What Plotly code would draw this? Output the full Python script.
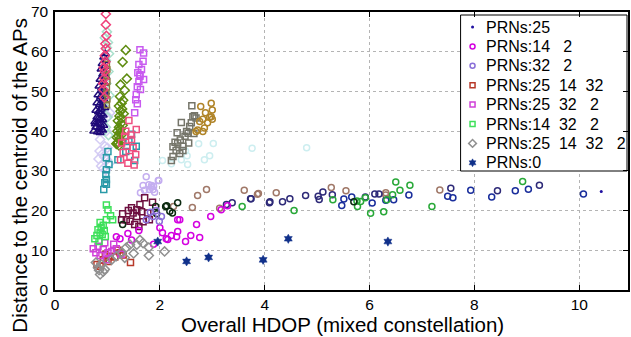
import plotly.graph_objects as go

# ---------------- data ----------------
# legend series
prn25_x = [10.42]
prn25_y = [24.8]

prn14_2_x = [1.39, 1.24, 1.46, 1.17, 2.05, 2.22, 2.32, 2.34, 2.12, 2.34, 2.59, 2.70, 2.97, 3.17, 3.29, 2.49, 2.15, 2.00, 2.38, 2.76, 1.60, 1.88]
prn14_2_y = [14.2, 12.9, 12.6, 13.4, 14.4, 13.7, 13.4, 17.7, 12.9, 14.7, 13.7, 16.5, 18.5, 20.2, 21.2, 12.2, 12.7, 15.7, 17.7, 13.2, 15.0, 11.5]

prn32_2_x = [1.87, 1.74, 2.03, 1.99, 1.82, 1.93]
prn32_2_y = [18.5, 17.7, 18.5, 17.3, 19.6, 20.0]

prn25_14_32_x = [0.80, 0.92, 1.05, 1.14, 1.24, 1.44, 1.01, 0.86, 1.20, 1.30, 0.96]
prn25_14_32_y = [6.4, 7.6, 8.5, 8.3, 9.4, 6.9, 7.2, 6.0, 10.0, 8.8, 9.0]

prn25_32_2_x = [0.73, 0.82, 0.92, 1.01, 1.08, 1.17, 0.86, 0.98, 0.95, 0.78, 1.12, 1.26]
prn25_32_2_y = [10.4, 11.0, 10.2, 9.4, 9.7, 10.4, 8.7, 7.6, 11.9, 9.4, 11.5, 9.0]

prn14_32_2_x = [0.98, 1.01, 1.06, 0.98, 1.10, 0.82, 0.86, 0.80, 0.76, 0.84, 0.90, 0.88, 0.94, 0.92, 0.96, 0.86]
prn14_32_2_y = [21.4, 20.2, 18.7, 17.7, 17.7, 15.2, 14.4, 13.7, 12.9, 12.2, 14.0, 15.8, 15.0, 16.3, 13.5, 17.0]

prn_all_x = [0.86, 0.92, 0.82, 0.78, 0.89, 1.17, 1.36, 1.43, 1.56, 1.62, 1.79, 1.79, 2.09, 1.27, 1.33, 1.08, 0.84, 0.95, 1.50, 1.68]
prn_all_y = [3.9, 4.6, 5.6, 6.9, 6.4, 8.5, 10.7, 11.4, 11.4, 12.6, 10.7, 8.7, 9.7, 9.4, 8.1, 7.6, 5.0, 5.2, 9.2, 11.8]

prn0_x = [1.96, 2.51, 2.93, 3.97, 4.45, 6.35]
prn0_y = [12.2, 7.2, 8.2, 7.6, 12.9, 12.2]

# other series (not in legend)
tri_x = [0.96, 0.93, 0.97, 0.90, 0.95, 0.88, 0.94, 0.91, 0.97, 0.86, 0.92, 0.95, 0.84, 0.89, 0.93,
         0.96, 0.82, 0.87, 0.91, 0.94, 0.80, 0.85, 0.90, 0.95, 0.78, 0.83, 0.88, 0.92, 0.80, 0.86,
         0.91, 0.76, 0.82, 0.87, 0.93, 0.78, 0.84, 0.89, 0.74, 0.81, 0.86, 0.91, 0.77, 0.83, 0.88]
tri_y = [59.5, 58.6, 57.8, 57.0, 56.3, 55.6, 54.9, 54.3, 53.7, 53.0, 52.5, 52.0, 51.3, 50.8, 50.3,
         49.8, 49.1, 48.7, 48.2, 47.8, 47.1, 46.7, 46.3, 45.9, 45.2, 44.8, 44.4, 44.0, 43.5, 43.1,
         42.8, 42.3, 42.0, 41.7, 41.4, 41.0, 40.7, 40.4, 40.0, 39.8, 39.6, 40.2, 41.8, 43.3, 45.5]

pinkd_x = [0.97, 0.97, 0.98, 0.96, 0.97, 0.95, 0.96, 0.93, 0.95, 0.94, 0.92, 0.92, 0.94]
pinkd_y = [69.5, 66.8, 64.0, 62.0, 60.8, 59.0, 57.5, 56.0, 55.0, 53.3, 52.0, 50.5, 48.5]

mint_x = [0.99, 0.95, 1.01, 0.99, 1.03, 0.97, 1.02, 0.98, 1.04, 0.96, 1.00, 0.97, 1.02]
mint_y = [65.0, 63.5, 62.3, 61.0, 59.5, 57.8, 55.0, 52.0, 49.0, 46.0, 43.5, 41.0, 39.0]

olsq_x = [0.99, 1.00, 0.98, 1.00, 0.99, 0.98, 1.00, 0.99]
olsq_y = [57.0, 55.5, 54.0, 52.5, 51.0, 49.5, 48.0, 46.5]

ogd_x = [1.35, 1.29, 1.37, 1.25, 1.33, 1.24, 1.30, 1.27, 1.22, 1.28, 1.25, 1.31, 1.23, 1.27, 1.20, 1.26,
         1.29, 1.22, 1.25, 1.19, 1.24, 1.28, 1.21, 1.18, 1.23, 1.26, 1.20, 1.17, 1.22, 1.19]
ogd_y = [60.4, 57.4, 53.2, 51.7, 50.3, 48.7, 47.8, 47.0, 46.3, 45.6, 45.0, 44.4, 43.8, 43.2, 42.6, 42.0,
         41.5, 41.0, 40.5, 40.0, 39.6, 39.2, 38.8, 38.4, 38.0, 37.6, 37.2, 36.8, 36.4, 36.9]

violet_x = [1.62, 1.69, 1.68, 1.60, 1.65, 1.58, 1.62, 1.60, 1.57, 1.63, 1.55, 1.54, 1.57, 1.52, 1.69, 1.62]
violet_y = [60.5, 59.7, 57.6, 56.8, 55.5, 54.7, 53.8, 52.5, 51.2, 50.5, 49.2, 47.9, 46.9, 44.6, 53.0, 54.2]

pinksq_x = [1.41, 1.55, 1.33, 1.46, 1.27, 1.37, 1.49, 1.30, 1.43, 1.54, 1.25, 1.39, 1.51, 1.35, 1.45]
pinksq_y = [42.7, 40.4, 38.7, 37.9, 37.0, 36.2, 35.8, 34.6, 33.6, 34.1, 32.8, 31.9, 31.5, 40.0, 39.0]

teal_x = [1.46, 1.41, 1.55, 1.20, 1.52, 1.35, 1.01, 0.98, 1.03, 0.98, 0.97, 0.98, 0.95, 0.93, 0.98]
teal_y = [39.2, 37.4, 36.2, 32.8, 32.6, 34.9, 34.9, 33.3, 31.6, 30.3, 29.0, 27.8, 27.0, 25.3, 26.6]

lavd_x = [1.01, 1.05, 0.91, 0.98, 0.86, 0.95, 0.85, 0.90, 0.94, 0.99, 1.03, 0.88, 0.92, 0.97, 1.00, 0.83]
lavd_y = [43.7, 44.6, 41.6, 40.0, 37.9, 36.2, 35.0, 34.2, 33.5, 32.8, 31.8, 31.2, 30.6, 30.2, 35.8, 33.0]

lavc_x = [1.74, 1.97, 1.68, 1.79, 1.88, 1.80, 1.71, 1.63, 1.90, 1.84, 1.98, 1.84, 1.87]
lavc_y = [28.5, 27.6, 26.3, 26.5, 26.1, 25.3, 25.1, 24.5, 24.6, 25.9, 27.6, 26.3, 25.3]

graysq_x = [2.61, 2.41, 2.33, 2.29, 2.25, 2.22, 2.25, 2.31, 2.38, 2.44, 2.44, 2.39, 2.48, 2.51, 2.54,
            2.57, 2.60, 2.63, 2.66, 2.69, 2.65, 2.55, 2.34]
graysq_y = [46.4, 42.2, 39.6, 37.2, 36.1, 32.6, 33.6, 35.1, 34.4, 35.1, 36.2, 37.8, 38.7, 39.9, 39.5,
            41.2, 42.1, 43.6, 43.9, 43.3, 39.4, 37.0, 37.0]

gold_x = [2.78, 2.98, 3.00, 2.87, 2.95, 3.00, 2.82, 2.91, 2.76, 2.85, 2.82, 2.72, 2.69, 2.98]
gold_y = [46.2, 47.0, 45.3, 44.6, 43.5, 43.0, 43.0, 42.1, 42.4, 40.8, 39.9, 40.3, 39.9, 43.6]

cyan_x = [2.74, 3.02, 3.76, 2.95, 2.85, 2.53, 2.52, 2.41, 2.22, 2.05, 2.49, 4.80]
cyan_y = [36.8, 36.9, 35.7, 33.8, 32.8, 31.6, 33.8, 32.8, 31.8, 32.6, 35.0, 35.8]

maroon_x = [1.46, 1.71, 1.86, 1.29, 1.36, 1.56, 1.65, 1.52, 1.43, 1.77, 1.60, 1.49, 1.27, 1.56, 1.68, 1.80, 1.62, 1.40]
maroon_y = [20.7, 23.2, 22.1, 19.2, 17.7, 18.5, 19.7, 16.5, 17.3, 19.4, 16.0, 19.4, 17.7, 20.2, 17.2, 17.7, 21.5, 20.0]

dkg_x = [2.13, 2.34, 1.94, 2.19, 2.24, 1.29, 1.92, 2.11, 5.70]
dkg_y = [21.2, 22.0, 19.2, 19.8, 19.4, 16.5, 21.0, 21.0, 22.2]

brown_x = [3.88, 4.22, 5.27, 5.55, 6.31, 6.31, 7.34, 2.89, 2.72, 3.61, 3.86, 2.26, 2.62, 3.14]
brown_y = [24.3, 24.5, 25.8, 25.0, 24.5, 23.9, 25.2, 25.3, 23.8, 25.1, 24.1, 21.0, 20.8, 20.6]

navy_x = [3.74, 4.09, 4.34, 4.48, 4.78, 5.02, 5.04, 5.11, 5.29, 5.92, 6.10, 6.18, 7.55, 8.44, 9.24, 3.27, 3.38, 3.73, 4.10]
navy_y = [23.0, 22.0, 22.2, 23.0, 23.8, 23.6, 22.8, 24.7, 24.0, 23.4, 24.2, 24.2, 25.6, 25.0, 26.4, 21.5, 22.0, 23.0, 22.2]

blue_x = [5.47, 5.51, 5.66, 6.05, 6.31, 6.46, 6.75, 7.49, 7.59, 7.93, 8.33, 8.78, 9.03, 10.08]
blue_y = [21.3, 22.9, 23.4, 21.9, 22.6, 22.7, 23.9, 23.6, 23.2, 25.1, 23.4, 25.0, 25.4, 24.2]

green_x = [4.56, 3.57, 5.30, 5.76, 5.77, 5.83, 5.92, 6.02, 6.27, 6.33, 6.44, 6.50, 6.58, 6.77, 7.19, 8.92]
green_y = [20.0, 21.0, 22.7, 22.4, 21.0, 22.3, 23.2, 19.3, 19.7, 22.7, 24.0, 27.2, 25.1, 26.4, 21.0, 27.3]

legend_names = ["PRNs:25", "PRNs:14   2", "PRNs:32   2", "PRNs:25  14  32",
                "PRNs:25  32   2", "PRNs:14  32   2", "PRNs:25  14  32   2", "PRNs:0"]

x_ticks = [0, 2, 4, 6, 8, 10]
y_ticks = [0, 10, 20, 30, 40, 50, 60, 70]

x_title = "Overall HDOP (mixed constellation)"
y_title = "Distance to the centroid of the APs"

# ---------------- figure ----------------
fig = go.Figure()
FONT = "Liberation Sans, Arial, Helvetica, sans-serif"
W, H = 631, 337
ML, MR, MT, MB = 55, 1, 12, 47
PW, PH = W - ML - MR, H - MT - MB


def add(x, y, sym, color, size=6, lw=1.5):
    fig.add_trace(go.Scatter(
        x=x, y=y, mode="markers", showlegend=False, hoverinfo="skip",
        marker=dict(symbol=sym, size=size, color=color,
                    line=dict(color=color, width=lw)),
    ))


# unnamed series
add(cyan_x, cyan_y, "circle-open", "#cdeef0")
add(lavd_x, lavd_y, "diamond-open", "#d4ccf4", size=7)
add(lavc_x, lavc_y, "circle-open", "#c4aef0")
add(mint_x, mint_y, "diamond-open", "#a8e0cc", size=7)
add(tri_x, tri_y, "triangle-up-open", "#1f0a78", size=7)
add(olsq_x, olsq_y, "square-open", "#8a7a40", size=5)
add(pinkd_x, pinkd_y, "diamond-open", "#f0407a", size=7)
add(ogd_x, ogd_y, "diamond-open", "#5e8c10", size=7)
add(violet_x, violet_y, "square-open", "#c85af0")
add(teal_x, teal_y, "square-open", "#2a9aa8")
add(pinksq_x, pinksq_y, "square-open", "#ee5080")
add(graysq_x, graysq_y, "square-open", "#75756a")
add(gold_x, gold_y, "circle-open", "#b08428")
add(maroon_x, maroon_y, "square-open", "#6e1040")
add(brown_x, brown_y, "circle-open", "#a07868")
add(navy_x, navy_y, "circle-open", "#2e2a78")
add(blue_x, blue_y, "circle-open", "#1a2e9c")
add(green_x, green_y, "circle-open", "#28a838")
add(dkg_x, dkg_y, "circle-open", "#0c2a10")

# legend series: (x, y, symbol, colour, size, line width)
legend_series = [
    (prn25_x, prn25_y, "circle", "#2010a0", 3, 0),
    (prn14_2_x, prn14_2_y, "circle-open", "#d400e0", 6, 1.5),
    (prn32_2_x, prn32_2_y, "circle-open", "#8a6fd8", 6, 1.5),
    (prn25_14_32_x, prn25_14_32_y, "square-open", "#b83a2a", 6, 1.5),
    (prn25_32_2_x, prn25_32_2_y, "square-open", "#d040d8", 6, 1.5),
    (prn14_32_2_x, prn14_32_2_y, "square-open", "#3ee05a", 6, 1.5),
    (prn_all_x, prn_all_y, "diamond-open", "#909090", 7, 1.5),
    (prn0_x, prn0_y, "hexagram", "#10308a", 7, 0.5),
]
for sx, sy, sym, col, sz, lw in legend_series:
    add(sx, sy, sym, col, size=sz, lw=lw)

# ---- hand-drawn legend box on an overlay axis measured in pixels ----
box_l, box_r, box_t, box_b = 462, 629, 15, 171
row_y0, row_dy = 27, 19.4
mark_x, text_x = 474, 485

fig.add_trace(go.Scatter(
    x=[box_l, box_r, box_r, box_l, box_l], y=[box_t, box_t, box_b, box_b, box_t],
    xaxis="x2", yaxis="y2", mode="lines", fill="toself", fillcolor="white",
    line=dict(color="black", width=1), showlegend=False, hoverinfo="skip"))

annotations = []
for i, (name, (sx, sy, sym, col, sz, lw)) in enumerate(zip(legend_names, legend_series)):
    ry = row_y0 + i * row_dy
    fig.add_trace(go.Scatter(
        x=[mark_x], y=[ry], xaxis="x2", yaxis="y2", mode="markers",
        marker=dict(symbol=sym, size=max(sz - 1, 3), color=col, line=dict(color=col, width=lw)),
        showlegend=False, hoverinfo="skip"))
    annotations.append(dict(
        x=text_x, y=ry, xref="x2", yref="y2", text=name.replace(" ", "\u00a0"),
        showarrow=False, xanchor="left", yanchor="middle",
        font=dict(family=FONT, size=16, color="black")))


def px_to_paper_x(px):
    return (px - ML) / PW


def px_to_paper_y(py):
    return 1 - (py - MT) / PH


# axis titles placed as in the reference
annotations.append(dict(
    x=px_to_paper_x(18.5), y=px_to_paper_y(175), xref="paper", yref="paper", text=y_title,
    showarrow=False, textangle=-90, xanchor="center", yanchor="middle", borderpad=0,
    font=dict(family=FONT, size=20.5, color="black")))
annotations.append(dict(
    x=px_to_paper_x(344), y=px_to_paper_y(312), xref="paper", yref="paper", text=x_title,
    showarrow=False, xanchor="center", yanchor="top", borderpad=0,
    font=dict(family=FONT, size=20.5, color="black")))

axis_common = dict(
    showgrid=True, gridcolor="#b4b4b4", griddash="dot", gridwidth=1,
    zeroline=False, showline=True, linecolor="black", linewidth=1.5,
    mirror="ticks", ticks="inside", ticklen=5, tickcolor="black",
    tickfont=dict(family=FONT, size=15.5, color="black"),
)

fig.update_layout(
    width=W, height=H,
    margin=dict(l=ML, r=MR, t=MT, b=MB),
    paper_bgcolor="white", plot_bgcolor="white",
    font=dict(family=FONT, color="black"),
    xaxis=dict(range=[0, 10.93], tickvals=x_ticks, ticklabelstandoff=0, **axis_common),
    yaxis=dict(range=[0, 70], tickvals=y_ticks, ticklabelstandoff=2, **axis_common),
    xaxis2=dict(overlaying="x", anchor="y2", range=[ML, W - MR], visible=False,
                fixedrange=True, showgrid=False),
    yaxis2=dict(overlaying="y", anchor="x2", range=[H - MB, MT], visible=False,
                fixedrange=True, showgrid=False),
    annotations=annotations,
    showlegend=False,
)

fig.write_html("out.html")
